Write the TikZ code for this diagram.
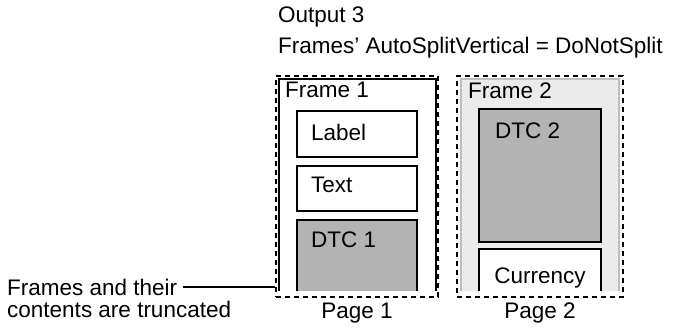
\documentclass[tikz,border=0pt]{standalone}
\usepackage{fontspec}
\setmainfont{Liberation Sans}
\usetikzlibrary{positioning}
\definecolor{dtcgray}{HTML}{B3B3B3}
\definecolor{framefill}{HTML}{EBEBEB}
\definecolor{frameedge}{HTML}{BEBEBE}

\begin{document}
\begin{tikzpicture}[
          x=1pt, y=-1pt,
          txt/.style={inner sep=0pt, font=\fontsize{22.5}{25}\selectfont},
          pagebox/.style={rectangle, draw, line width=1.6pt, dash pattern=on 5pt off 4pt, inner sep=0pt},
          framebox/.style={rectangle, draw, line width=1.8pt, inner sep=0pt, fill=white},
          ctrl/.style={rectangle, draw, line width=1.8pt, inner sep=0pt, fill=white, minimum width=120pt},
          dtc/.style={ctrl, fill=dtcgray}
        ]
          \useasboundingbox (0,0) rectangle (674,330);

          \node[txt, anchor=base west] (title) at (278,22) {Output 3};
          \node[txt, anchor=base west] (setting) at (278,53) {Frames' AutoSplitVertical = DoNotSplit};

          \node[pagebox, minimum width=162pt, minimum height=221pt] (page1) at (357,186.5) {};
          \node[pagebox, minimum width=166pt, minimum height=221pt] (page2) at (540,186.5) {};

          \begin{scope}
            \clip (260,70) rectangle (640,290);
            \node[framebox, minimum width=157pt, minimum height=221pt] (frame1) at (357.5,189.5) {};
            \node[framebox, draw=frameedge, fill=framefill, minimum width=158pt, minimum height=221pt] (frame2) at (540,189.5) {};
            \node[ctrl, minimum height=46pt] (label) at (357,134) {};
            \node[ctrl, minimum height=45pt] (text) at (357,188.5) {};
            \node[dtc, minimum height=80pt] (dtc1) at (357,260) {};
            \node[dtc, minimum width=122pt, minimum height=133pt] (dtc2) at (540,175.5) {};
            \node[ctrl, minimum width=122pt, minimum height=51pt] (currency) at (540,274.5) {};
          \end{scope}

          \node[txt, anchor=base west] (frame1txt) at (285,97) {Frame 1};
          \node[txt, anchor=base west] (labeltxt) at (311,140) {Label};
          \node[txt, anchor=base west] (texttxt) at (311,192) {Text};
          \node[txt, anchor=base west] (dtc1txt) at (311,247) {DTC 1};
          \node[txt, anchor=base west] (frame2txt) at (468,98) {Frame 2};
          \node[txt, anchor=base west] (dtc2txt) at (495,138) {DTC 2};
          \node[txt, anchor=base] (currencytxt) at (540,283) {Currency};

          \node[txt, below=5pt of page1] (page1txt) {Page 1};
          \node[txt, below=5pt of page2] (page2txt) {Page 2};

          \node[txt, anchor=base west] (note1) at (7,295) {Frames and their};
          \node[txt, anchor=base west] (note2) at (7,317) {contents are truncated};
          \draw[line width=1.2pt, shorten <=6pt] (note1.east) -- (note1.east -| page1.west);
\end{tikzpicture}
\end{document}
